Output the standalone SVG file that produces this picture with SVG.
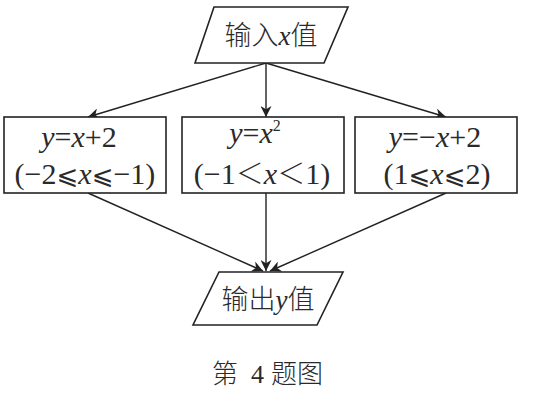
<svg xmlns="http://www.w3.org/2000/svg" width="538" height="396" viewBox="0 0 538 396">
<defs>
<marker id="ah" viewBox="0 0 10 10" refX="10" refY="5" markerWidth="11" markerHeight="11" markerUnits="userSpaceOnUse" orient="auto">
<path d="M0,0 L10,5 L0,10 L3,5 Z" fill="#222"/>
</marker>
<style>
.shape{fill:#fff;stroke:#222;stroke-width:1.6}
.t{font-family:"Liberation Serif","Noto Sans CJK SC","DejaVu Serif",serif;font-size:30px;fill:#2a2a2a;text-anchor:middle}
.cjk{font-family:"Noto Sans CJK SC",sans-serif;font-weight:300}
.i{font-style:italic}
.le{font-family:"DejaVu Sans",sans-serif;font-size:26px}
.lt{font-family:"Noto Sans CJK SC",sans-serif;font-weight:300;font-size:28px}
.big{font-size:27px}
.cap{font-size:26px;text-anchor:start}
.num{font-family:"Liberation Serif",serif;font-weight:400}
.edge{stroke:#222;stroke-width:1.4;fill:none;marker-end:url(#ah)}
</style>
</defs>
<g id="connectors">
<line class="edge" x1="266" y1="63" x2="88" y2="117"/>
<line class="edge" x1="266" y1="63" x2="266" y2="117"/>
<line class="edge" x1="266" y1="63" x2="446" y2="117"/>
<line class="edge" x1="88" y1="193" x2="263" y2="271"/>
<line class="edge" x1="266" y1="193" x2="266" y2="271"/>
<line class="edge" x1="446" y1="193" x2="270" y2="271"/>
</g>
<g id="input">
<polygon class="shape" points="214,7 348,7 324,63 195,63"/>
<text class="t big" x="271" y="45"><tspan class="cjk">输入</tspan><tspan class="i">x</tspan><tspan class="cjk">值</tspan></text>
</g>
<g id="box1">
<rect class="shape" x="4" y="117" width="162" height="76"/>
<text class="t" x="79" y="147"><tspan class="i">y</tspan>=<tspan class="i">x</tspan>+2</text>
<text class="t" x="85" y="184">(−2<tspan class="le">⩽</tspan><tspan class="i">x</tspan><tspan class="le">⩽</tspan>−1)</text>
</g>
<g id="box2">
<rect class="shape" x="182" y="117" width="162" height="76"/>
<text class="t" x="255" y="143"><tspan class="i">y</tspan>=<tspan class="i">x</tspan><tspan style="font-size:16px" dy="-12">2</tspan></text>
<text class="t" x="262" y="184">(−1<tspan class="lt">＜</tspan><tspan class="i">x</tspan><tspan class="lt">＜</tspan>1)</text>
</g>
<g id="box3">
<rect class="shape" x="355" y="117" width="162" height="76"/>
<text class="t" x="435" y="147"><tspan class="i">y</tspan>=−<tspan class="i">x</tspan>+2</text>
<text class="t" x="437" y="184">(1<tspan class="le">⩽</tspan><tspan class="i">x</tspan><tspan class="le">⩽</tspan>2)</text>
</g>
<g id="output">
<polygon class="shape" points="219,272 343,272 317,325 193,325"/>
<text class="t big" x="268" y="309"><tspan class="cjk">输出</tspan><tspan class="i">y</tspan><tspan class="cjk">值</tspan></text>
</g>
<text class="t cjk cap" x="212" y="383">第<tspan x="251" class="num">4</tspan><tspan x="271">题图</tspan></text>
</svg>
